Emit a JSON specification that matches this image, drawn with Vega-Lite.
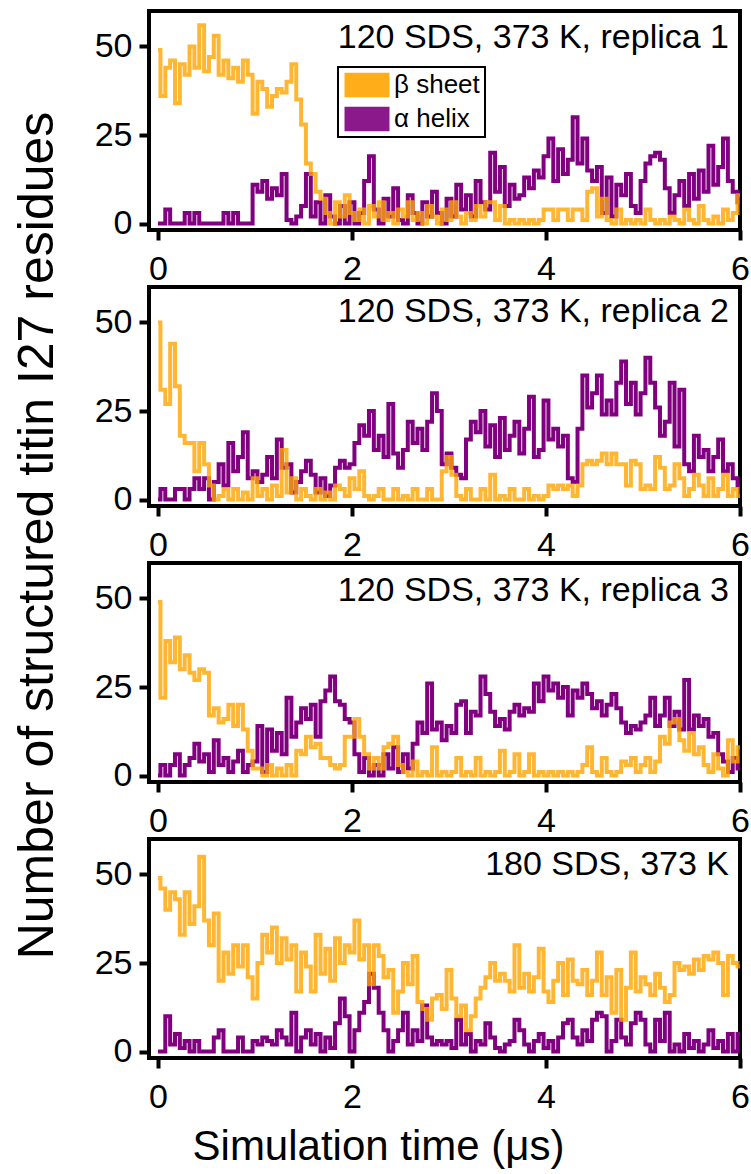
{
  "$schema": "https://vega.github.io/schema/vega-lite/v6.json",
  "padding": {"top": 9, "left": 9, "right": 0, "bottom": 0},
  "spacing": 57,
  "bounds": "flush",
  "config": {
    "font": "Liberation Sans",
    "view": {"stroke": "black", "strokeWidth": 4},
    "axis": {"domain": false, "grid": false, "tickColor": "black", "tickWidth": 4, "tickSize": 10, "labelFontSize": 34, "labelColor": "black", "labelFont": "Liberation Sans", "labelFlush": false, "titleColor": "black", "titleFontWeight": "normal"},
    "legend": {"strokeWidth": 2},
    "title": {"fontSize": 34, "fontWeight": "normal", "font": "Liberation Sans", "color": "black", "anchor": "end", "frame": "group", "dx": -11}
  },
  "resolve": {"scale": {"color": "independent"}, "legend": {"color": "independent"}},
  "datasets": {
    "r1": [{"t":0,"b":49,"a":0},{"t":0.05,"b":36,"a":0},{"t":0.1,"b":44,"a":4},{"t":0.15,"b":46,"a":0},{"t":0.2,"b":34,"a":0},{"t":0.25,"b":45,"a":0},{"t":0.3,"b":42,"a":3},{"t":0.35,"b":50,"a":0},{"t":0.4,"b":44,"a":3},{"t":0.45,"b":56,"a":0},{"t":0.5,"b":43,"a":0},{"t":0.55,"b":47,"a":0},{"t":0.6,"b":53,"a":0},{"t":0.65,"b":42,"a":0},{"t":0.7,"b":46,"a":3},{"t":0.75,"b":41,"a":0},{"t":0.8,"b":44,"a":3},{"t":0.85,"b":40,"a":0},{"t":0.9,"b":46,"a":0},{"t":0.95,"b":42,"a":0},{"t":1,"b":31,"a":11},{"t":1.05,"b":40,"a":9},{"t":1.1,"b":38,"a":12},{"t":1.15,"b":33,"a":7},{"t":1.2,"b":36,"a":10},{"t":1.25,"b":38,"a":8},{"t":1.3,"b":37,"a":14},{"t":1.35,"b":40,"a":1},{"t":1.4,"b":45,"a":0},{"t":1.45,"b":35,"a":2},{"t":1.5,"b":28,"a":5},{"t":1.55,"b":17,"a":14},{"t":1.6,"b":14,"a":2},{"t":1.65,"b":9,"a":6},{"t":1.7,"b":7,"a":0},{"t":1.75,"b":3,"a":8},{"t":1.8,"b":0,"a":2},{"t":1.85,"b":6,"a":0},{"t":1.9,"b":2,"a":5},{"t":1.95,"b":8,"a":0},{"t":2,"b":3,"a":6},{"t":2.05,"b":1,"a":0},{"t":2.1,"b":4,"a":3},{"t":2.15,"b":0,"a":12},{"t":2.2,"b":5,"a":19},{"t":2.25,"b":2,"a":4},{"t":2.3,"b":6,"a":0},{"t":2.35,"b":1,"a":7},{"t":2.4,"b":3,"a":2},{"t":2.45,"b":0,"a":10},{"t":2.5,"b":4,"a":1},{"t":2.55,"b":2,"a":0},{"t":2.6,"b":6,"a":8},{"t":2.65,"b":1,"a":3},{"t":2.7,"b":3,"a":0},{"t":2.75,"b":0,"a":6},{"t":2.8,"b":5,"a":2},{"t":2.85,"b":2,"a":9},{"t":2.9,"b":0,"a":3},{"t":2.95,"b":4,"a":0},{"t":3,"b":1,"a":7},{"t":3.05,"b":6,"a":2},{"t":3.1,"b":2,"a":11},{"t":3.15,"b":0,"a":4},{"t":3.2,"b":3,"a":8},{"t":3.25,"b":1,"a":2},{"t":3.3,"b":5,"a":12},{"t":3.35,"b":2,"a":6},{"t":3.4,"b":6,"a":4},{"t":3.45,"b":6,"a":20},{"t":3.5,"b":1,"a":9},{"t":3.55,"b":5,"a":16},{"t":3.6,"b":0,"a":5},{"t":3.65,"b":1,"a":11},{"t":3.7,"b":0,"a":7},{"t":3.75,"b":1,"a":8},{"t":3.8,"b":0,"a":13},{"t":3.85,"b":1,"a":10},{"t":3.9,"b":0,"a":15},{"t":3.95,"b":1,"a":13},{"t":4,"b":4,"a":19},{"t":4.05,"b":4,"a":24},{"t":4.1,"b":1,"a":12},{"t":4.15,"b":4,"a":21},{"t":4.2,"b":4,"a":14},{"t":4.25,"b":1,"a":18},{"t":4.3,"b":4,"a":30},{"t":4.35,"b":4,"a":17},{"t":4.4,"b":1,"a":24},{"t":4.45,"b":9,"a":15},{"t":4.5,"b":10,"a":12},{"t":4.55,"b":2,"a":16},{"t":4.6,"b":7,"a":3},{"t":4.65,"b":1,"a":13},{"t":4.7,"b":0,"a":2},{"t":4.75,"b":4,"a":11},{"t":4.8,"b":0,"a":8},{"t":4.85,"b":1,"a":14},{"t":4.9,"b":0,"a":5},{"t":4.95,"b":1,"a":3},{"t":5,"b":0,"a":12},{"t":5.05,"b":4,"a":17},{"t":5.1,"b":1,"a":19},{"t":5.15,"b":0,"a":20},{"t":5.2,"b":1,"a":18},{"t":5.25,"b":0,"a":10},{"t":5.3,"b":2,"a":3},{"t":5.35,"b":1,"a":8},{"t":5.4,"b":0,"a":12},{"t":5.45,"b":4,"a":5},{"t":5.5,"b":1,"a":14},{"t":5.55,"b":0,"a":7},{"t":5.6,"b":5,"a":15},{"t":5.65,"b":1,"a":9},{"t":5.7,"b":0,"a":22},{"t":5.75,"b":2,"a":11},{"t":5.8,"b":0,"a":16},{"t":5.85,"b":4,"a":24},{"t":5.9,"b":1,"a":12},{"t":5.95,"b":3,"a":9},{"t":6,"b":8,"a":6}],
    "r2": [{"t":0,"b":50,"a":0},{"t":0.05,"b":31,"a":3},{"t":0.1,"b":27,"a":0},{"t":0.15,"b":44,"a":0},{"t":0.2,"b":32,"a":3},{"t":0.25,"b":18,"a":3},{"t":0.3,"b":16,"a":0},{"t":0.35,"b":16,"a":3},{"t":0.4,"b":8,"a":6},{"t":0.45,"b":16,"a":3},{"t":0.5,"b":10,"a":6},{"t":0.55,"b":4,"a":0},{"t":0.6,"b":0,"a":5},{"t":0.65,"b":1,"a":10},{"t":0.7,"b":3,"a":4},{"t":0.75,"b":0,"a":16},{"t":0.8,"b":3,"a":8},{"t":0.85,"b":0,"a":12},{"t":0.9,"b":2,"a":19},{"t":0.95,"b":0,"a":6},{"t":1,"b":6,"a":8},{"t":1.05,"b":1,"a":5},{"t":1.1,"b":3,"a":7},{"t":1.15,"b":0,"a":12},{"t":1.2,"b":4,"a":6},{"t":1.25,"b":1,"a":17},{"t":1.3,"b":14,"a":9},{"t":1.35,"b":2,"a":10},{"t":1.4,"b":6,"a":2},{"t":1.45,"b":0,"a":5},{"t":1.5,"b":3,"a":8},{"t":1.55,"b":1,"a":11},{"t":1.6,"b":0,"a":7},{"t":1.65,"b":3,"a":2},{"t":1.7,"b":0,"a":6},{"t":1.75,"b":2,"a":1},{"t":1.8,"b":0,"a":4},{"t":1.85,"b":4,"a":9},{"t":1.9,"b":3,"a":11},{"t":1.95,"b":1,"a":9},{"t":2,"b":6,"a":10},{"t":2.05,"b":3,"a":16},{"t":2.1,"b":8,"a":21},{"t":2.15,"b":1,"a":18},{"t":2.2,"b":0,"a":25},{"t":2.25,"b":1,"a":14},{"t":2.3,"b":3,"a":18},{"t":2.35,"b":0,"a":12},{"t":2.4,"b":0,"a":27},{"t":2.45,"b":3,"a":13},{"t":2.5,"b":0,"a":9},{"t":2.55,"b":1,"a":14},{"t":2.6,"b":0,"a":22},{"t":2.65,"b":3,"a":16},{"t":2.7,"b":0,"a":20},{"t":2.75,"b":0,"a":14},{"t":2.8,"b":3,"a":22},{"t":2.85,"b":0,"a":30},{"t":2.9,"b":0,"a":25},{"t":2.95,"b":8,"a":10},{"t":3,"b":12,"a":13},{"t":3.05,"b":7,"a":9},{"t":3.1,"b":1,"a":7},{"t":3.15,"b":0,"a":6},{"t":3.2,"b":3,"a":17},{"t":3.25,"b":0,"a":22},{"t":3.3,"b":0,"a":19},{"t":3.35,"b":3,"a":25},{"t":3.4,"b":0,"a":15},{"t":3.45,"b":7,"a":21},{"t":3.5,"b":0,"a":12},{"t":3.55,"b":1,"a":23},{"t":3.6,"b":0,"a":14},{"t":3.65,"b":3,"a":18},{"t":3.7,"b":0,"a":22},{"t":3.75,"b":0,"a":13},{"t":3.8,"b":3,"a":20},{"t":3.85,"b":0,"a":29},{"t":3.9,"b":1,"a":12},{"t":3.95,"b":0,"a":14},{"t":4,"b":1,"a":28},{"t":4.05,"b":4,"a":17},{"t":4.1,"b":3,"a":20},{"t":4.15,"b":4,"a":15},{"t":4.2,"b":3,"a":18},{"t":4.25,"b":4,"a":6},{"t":4.3,"b":1,"a":5},{"t":4.35,"b":4,"a":20},{"t":4.4,"b":10,"a":35},{"t":4.45,"b":11,"a":26},{"t":4.5,"b":10,"a":30},{"t":4.55,"b":11,"a":35},{"t":4.6,"b":13,"a":24},{"t":4.65,"b":10,"a":28},{"t":4.7,"b":13,"a":24},{"t":4.75,"b":10,"a":33},{"t":4.8,"b":10,"a":39},{"t":4.85,"b":4,"a":27},{"t":4.9,"b":11,"a":33},{"t":4.95,"b":10,"a":24},{"t":5,"b":3,"a":30},{"t":5.05,"b":4,"a":40},{"t":5.1,"b":3,"a":33},{"t":5.15,"b":12,"a":26},{"t":5.2,"b":9,"a":18},{"t":5.25,"b":3,"a":22},{"t":5.3,"b":4,"a":33},{"t":5.35,"b":10,"a":15},{"t":5.4,"b":6,"a":31},{"t":5.45,"b":1,"a":10},{"t":5.5,"b":3,"a":8},{"t":5.55,"b":7,"a":18},{"t":5.6,"b":4,"a":12},{"t":5.65,"b":1,"a":14},{"t":5.7,"b":6,"a":8},{"t":5.75,"b":1,"a":12},{"t":5.8,"b":3,"a":17},{"t":5.85,"b":7,"a":8},{"t":5.9,"b":1,"a":10},{"t":5.95,"b":3,"a":6},{"t":6,"b":1,"a":4}],
    "r3": [{"t":0,"b":49,"a":0},{"t":0.05,"b":22,"a":3},{"t":0.1,"b":38,"a":0},{"t":0.15,"b":32,"a":3},{"t":0.2,"b":39,"a":6},{"t":0.25,"b":30,"a":0},{"t":0.3,"b":34,"a":3},{"t":0.35,"b":29,"a":5},{"t":0.4,"b":27,"a":9},{"t":0.45,"b":30,"a":4},{"t":0.5,"b":29,"a":6},{"t":0.55,"b":17,"a":1},{"t":0.6,"b":19,"a":10},{"t":0.65,"b":15,"a":3},{"t":0.7,"b":16,"a":5},{"t":0.75,"b":20,"a":1},{"t":0.8,"b":14,"a":4},{"t":0.85,"b":20,"a":7},{"t":0.9,"b":13,"a":1},{"t":0.95,"b":7,"a":3},{"t":1,"b":2,"a":4},{"t":1.05,"b":2,"a":14},{"t":1.1,"b":0,"a":1},{"t":1.15,"b":3,"a":13},{"t":1.2,"b":0,"a":7},{"t":1.25,"b":2,"a":12},{"t":1.3,"b":0,"a":6},{"t":1.35,"b":3,"a":22},{"t":1.4,"b":0,"a":11},{"t":1.45,"b":7,"a":15},{"t":1.5,"b":6,"a":19},{"t":1.55,"b":11,"a":16},{"t":1.6,"b":8,"a":20},{"t":1.65,"b":9,"a":11},{"t":1.7,"b":5,"a":21},{"t":1.75,"b":5,"a":24},{"t":1.8,"b":3,"a":28},{"t":1.85,"b":2,"a":21},{"t":1.9,"b":3,"a":20},{"t":1.95,"b":11,"a":16},{"t":2,"b":11,"a":15},{"t":2.05,"b":16,"a":6},{"t":2.1,"b":11,"a":1},{"t":2.15,"b":6,"a":5},{"t":2.2,"b":2,"a":0},{"t":2.25,"b":5,"a":3},{"t":2.3,"b":2,"a":0},{"t":2.35,"b":8,"a":6},{"t":2.4,"b":9,"a":2},{"t":2.45,"b":11,"a":8},{"t":2.5,"b":3,"a":1},{"t":2.55,"b":1,"a":6},{"t":2.6,"b":0,"a":2},{"t":2.65,"b":4,"a":9},{"t":2.7,"b":0,"a":15},{"t":2.75,"b":1,"a":12},{"t":2.8,"b":0,"a":26},{"t":2.85,"b":8,"a":13},{"t":2.9,"b":0,"a":15},{"t":2.95,"b":1,"a":10},{"t":3,"b":0,"a":14},{"t":3.05,"b":1,"a":12},{"t":3.1,"b":5,"a":20},{"t":3.15,"b":0,"a":21},{"t":3.2,"b":1,"a":12},{"t":3.25,"b":0,"a":18},{"t":3.3,"b":5,"a":17},{"t":3.35,"b":0,"a":28},{"t":3.4,"b":1,"a":23},{"t":3.45,"b":0,"a":18},{"t":3.5,"b":1,"a":14},{"t":3.55,"b":7,"a":16},{"t":3.6,"b":0,"a":13},{"t":3.65,"b":1,"a":18},{"t":3.7,"b":6,"a":20},{"t":3.75,"b":0,"a":17},{"t":3.8,"b":1,"a":19},{"t":3.85,"b":6,"a":18},{"t":3.9,"b":0,"a":26},{"t":3.95,"b":1,"a":21},{"t":4,"b":0,"a":28},{"t":4.05,"b":1,"a":24},{"t":4.1,"b":0,"a":26},{"t":4.15,"b":1,"a":22},{"t":4.2,"b":0,"a":25},{"t":4.25,"b":1,"a":17},{"t":4.3,"b":0,"a":24},{"t":4.35,"b":1,"a":22},{"t":4.4,"b":3,"a":26},{"t":4.45,"b":8,"a":23},{"t":4.5,"b":1,"a":19},{"t":4.55,"b":0,"a":21},{"t":4.6,"b":5,"a":17},{"t":4.65,"b":1,"a":20},{"t":4.7,"b":0,"a":23},{"t":4.75,"b":1,"a":19},{"t":4.8,"b":4,"a":15},{"t":4.85,"b":3,"a":12},{"t":4.9,"b":5,"a":14},{"t":4.95,"b":1,"a":13},{"t":5,"b":3,"a":15},{"t":5.05,"b":5,"a":17},{"t":5.1,"b":1,"a":22},{"t":5.15,"b":4,"a":14},{"t":5.2,"b":11,"a":17},{"t":5.25,"b":9,"a":22},{"t":5.3,"b":15,"a":14},{"t":5.35,"b":16,"a":18},{"t":5.4,"b":10,"a":13},{"t":5.45,"b":7,"a":27},{"t":5.5,"b":12,"a":13},{"t":5.55,"b":6,"a":17},{"t":5.6,"b":8,"a":14},{"t":5.65,"b":3,"a":16},{"t":5.7,"b":1,"a":11},{"t":5.75,"b":6,"a":12},{"t":5.8,"b":2,"a":6},{"t":5.85,"b":0,"a":4},{"t":5.9,"b":10,"a":1},{"t":5.95,"b":4,"a":5},{"t":6,"b":8,"a":2}],
    "r4": [{"t":0,"b":49,"a":0},{"t":0.05,"b":46,"a":0},{"t":0.1,"b":40,"a":10},{"t":0.15,"b":45,"a":2},{"t":0.2,"b":43,"a":5},{"t":0.25,"b":33,"a":1},{"t":0.3,"b":45,"a":3},{"t":0.35,"b":36,"a":0},{"t":0.4,"b":41,"a":3},{"t":0.45,"b":55,"a":0},{"t":0.5,"b":37,"a":0},{"t":0.55,"b":30,"a":0},{"t":0.6,"b":39,"a":4},{"t":0.65,"b":20,"a":6},{"t":0.7,"b":28,"a":0},{"t":0.75,"b":22,"a":0},{"t":0.8,"b":30,"a":0},{"t":0.85,"b":24,"a":4},{"t":0.9,"b":30,"a":0},{"t":0.95,"b":21,"a":0},{"t":1,"b":15,"a":3},{"t":1.05,"b":25,"a":2},{"t":1.1,"b":33,"a":4},{"t":1.15,"b":28,"a":3},{"t":1.2,"b":35,"a":2},{"t":1.25,"b":25,"a":6},{"t":1.3,"b":32,"a":4},{"t":1.35,"b":26,"a":2},{"t":1.4,"b":30,"a":11},{"t":1.45,"b":17,"a":0},{"t":1.5,"b":28,"a":4},{"t":1.55,"b":24,"a":6},{"t":1.6,"b":17,"a":2},{"t":1.65,"b":33,"a":5},{"t":1.7,"b":22,"a":0},{"t":1.75,"b":29,"a":4},{"t":1.8,"b":20,"a":1},{"t":1.85,"b":32,"a":8},{"t":1.9,"b":25,"a":15},{"t":1.95,"b":30,"a":10},{"t":2,"b":28,"a":0},{"t":2.05,"b":37,"a":6},{"t":2.1,"b":26,"a":11},{"t":2.15,"b":30,"a":14},{"t":2.2,"b":19,"a":22},{"t":2.25,"b":30,"a":18},{"t":2.3,"b":27,"a":11},{"t":2.35,"b":21,"a":6},{"t":2.4,"b":23,"a":0},{"t":2.45,"b":11,"a":3},{"t":2.5,"b":17,"a":6},{"t":2.55,"b":25,"a":11},{"t":2.6,"b":19,"a":2},{"t":2.65,"b":27,"a":6},{"t":2.7,"b":14,"a":3},{"t":2.75,"b":12,"a":13},{"t":2.8,"b":9,"a":4},{"t":2.85,"b":15,"a":2},{"t":2.9,"b":16,"a":3},{"t":2.95,"b":12,"a":2},{"t":3,"b":23,"a":3},{"t":3.05,"b":15,"a":1},{"t":3.1,"b":10,"a":9},{"t":3.15,"b":13,"a":2},{"t":3.2,"b":6,"a":5},{"t":3.25,"b":10,"a":0},{"t":3.3,"b":15,"a":3},{"t":3.35,"b":18,"a":2},{"t":3.4,"b":21,"a":8},{"t":3.45,"b":25,"a":4},{"t":3.5,"b":20,"a":1},{"t":3.55,"b":22,"a":0},{"t":3.6,"b":20,"a":2},{"t":3.65,"b":17,"a":3},{"t":3.7,"b":30,"a":9},{"t":3.75,"b":18,"a":6},{"t":3.8,"b":22,"a":2},{"t":3.85,"b":17,"a":0},{"t":3.9,"b":21,"a":3},{"t":3.95,"b":29,"a":5},{"t":4,"b":17,"a":1},{"t":4.05,"b":14,"a":3},{"t":4.1,"b":20,"a":0},{"t":4.15,"b":25,"a":4},{"t":4.2,"b":16,"a":8},{"t":4.25,"b":26,"a":9},{"t":4.3,"b":20,"a":4},{"t":4.35,"b":19,"a":2},{"t":4.4,"b":23,"a":6},{"t":4.45,"b":16,"a":3},{"t":4.5,"b":20,"a":9},{"t":4.55,"b":28,"a":11},{"t":4.6,"b":16,"a":10},{"t":4.65,"b":21,"a":0},{"t":4.7,"b":11,"a":3},{"t":4.75,"b":23,"a":9},{"t":4.8,"b":9,"a":4},{"t":4.85,"b":18,"a":2},{"t":4.9,"b":28,"a":8},{"t":4.95,"b":17,"a":11},{"t":5,"b":21,"a":9},{"t":5.05,"b":19,"a":2},{"t":5.1,"b":16,"a":0},{"t":5.15,"b":22,"a":9},{"t":5.2,"b":18,"a":3},{"t":5.25,"b":14,"a":11},{"t":5.3,"b":16,"a":0},{"t":5.35,"b":25,"a":2},{"t":5.4,"b":23,"a":0},{"t":5.45,"b":24,"a":5},{"t":5.5,"b":22,"a":1},{"t":5.55,"b":26,"a":3},{"t":5.6,"b":23,"a":0},{"t":5.65,"b":27,"a":2},{"t":5.7,"b":26,"a":6},{"t":5.75,"b":28,"a":1},{"t":5.8,"b":25,"a":3},{"t":5.85,"b":16,"a":0},{"t":5.9,"b":27,"a":5},{"t":5.95,"b":25,"a":0},{"t":6,"b":24,"a":5}]
  },
  "vconcat": [
    {
      "width": 591, "height": 219,
      "title": {"text": "120 SDS, 373 K, replica 1", "offset": -44},
      "encoding": {
        "x": {"field": "t", "type": "quantitative", "scale": {"domain": [-0.093, 6], "nice": false, "zero": false}, "axis": {"values": [0, 2, 4, 6], "labelPadding": 12, "title": null}},
        "y": {"field": "v", "type": "quantitative", "scale": {"domain": [-1.8, 60], "nice": false, "zero": false}, "axis": {"values": [0, 25, 50], "labelPadding": 7, "title": "Number of structured titin I27 residues", "titleFontSize": 50, "titleFont": "Liberation Sans", "titleX": -97, "titleY": 524, "titleBaseline": "alphabetic", "titleAngle": 270}}
      },
      "layer": [
        {"data": {"name": "r1"}, "transform": [{"fold": ["a", "b"], "as": ["s", "v"]}, {"filter": "datum.s === 'a'"}], "mark": {"type": "line", "strokeWidth": 4, "interpolate": "step"},
         "encoding": {"color": {"field": "s", "type": "nominal", "scale": {"domain": ["b", "a"], "range": ["#FFA500", "#800080"]}, "legend": null}}},
        {"data": {"name": "r1"}, "transform": [{"fold": ["a", "b"], "as": ["s", "v"]}, {"filter": "datum.s === 'b'"}], "mark": {"type": "line", "strokeWidth": 4, "interpolate": "step", "opacity": 0.8},
         "encoding": {"color": {"field": "s", "type": "nominal", "scale": {"domain": ["b", "a"], "range": ["#FFA500", "#800080"]}, "legend": null}}},
        {"data": {"values": [{"s": "b"}, {"s": "a"}]}, "mark": {"type": "point", "filled": true, "opacity": 0},
         "encoding": {"x": {"datum": 0}, "y": {"datum": 0},
           "fill": {"field": "s", "type": "nominal", "scale": {"domain": ["b", "a"], "range": ["#FFA500", "#800080"]},
             "legend": {"orient": "none", "legendX": 189, "legendY": 56, "title": null, "symbolType": "M-2,-1.1H2V1.1H-2Z", "symbolSize": 506, "symbolStrokeWidth": 0, "symbolOffset": 11, "symbolOpacity": 0.9, "labelFontSize": 26, "labelFont": "Liberation Sans", "labelColor": "black", "labelOffset": 14, "padding": 5, "strokeColor": "black", "fillColor": "white", "rowPadding": 8, "labelExpr": "datum.value === 'b' ? 'β sheet' : 'α helix'"}}}}
      ]
    },
    {
      "width": 591, "height": 219,
      "title": {"text": "120 SDS, 373 K, replica 2", "offset": -42},
      "encoding": {
        "x": {"field": "t", "type": "quantitative", "scale": {"domain": [-0.093, 6], "nice": false, "zero": false}, "axis": {"values": [0, 2, 4, 6], "labelPadding": 12, "title": null}},
        "y": {"field": "v", "type": "quantitative", "scale": {"domain": [-1.8, 60], "nice": false, "zero": false}, "axis": {"values": [0, 25, 50], "labelPadding": 7, "title": null}}
      },
      "layer": [
        {"data": {"name": "r2"}, "transform": [{"fold": ["a", "b"], "as": ["s", "v"]}, {"filter": "datum.s === 'a'"}], "mark": {"type": "line", "strokeWidth": 4, "interpolate": "step"},
         "encoding": {"color": {"field": "s", "type": "nominal", "scale": {"domain": ["b", "a"], "range": ["#FFA500", "#800080"]}, "legend": null}}},
        {"data": {"name": "r2"}, "transform": [{"fold": ["a", "b"], "as": ["s", "v"]}, {"filter": "datum.s === 'b'"}], "mark": {"type": "line", "strokeWidth": 4, "interpolate": "step", "opacity": 0.8},
         "encoding": {"color": {"field": "s", "type": "nominal", "scale": {"domain": ["b", "a"], "range": ["#FFA500", "#800080"]}, "legend": null}}}
      ]
    },
    {
      "width": 591, "height": 219,
      "title": {"text": "120 SDS, 373 K, replica 3", "offset": -45},
      "encoding": {
        "x": {"field": "t", "type": "quantitative", "scale": {"domain": [-0.093, 6], "nice": false, "zero": false}, "axis": {"values": [0, 2, 4, 6], "labelPadding": 12, "title": null}},
        "y": {"field": "v", "type": "quantitative", "scale": {"domain": [-1.8, 60], "nice": false, "zero": false}, "axis": {"values": [0, 25, 50], "labelPadding": 7, "title": null}}
      },
      "layer": [
        {"data": {"name": "r3"}, "transform": [{"fold": ["a", "b"], "as": ["s", "v"]}, {"filter": "datum.s === 'a'"}], "mark": {"type": "line", "strokeWidth": 4, "interpolate": "step"},
         "encoding": {"color": {"field": "s", "type": "nominal", "scale": {"domain": ["b", "a"], "range": ["#FFA500", "#800080"]}, "legend": null}}},
        {"data": {"name": "r3"}, "transform": [{"fold": ["a", "b"], "as": ["s", "v"]}, {"filter": "datum.s === 'b'"}], "mark": {"type": "line", "strokeWidth": 4, "interpolate": "step", "opacity": 0.8},
         "encoding": {"color": {"field": "s", "type": "nominal", "scale": {"domain": ["b", "a"], "range": ["#FFA500", "#800080"]}, "legend": null}}}
      ]
    },
    {
      "width": 591, "height": 219,
      "title": {"text": "180 SDS, 373 K", "offset": -43},
      "encoding": {
        "x": {"field": "t", "type": "quantitative", "scale": {"domain": [-0.093, 6], "nice": false, "zero": false}, "axis": {"values": [0, 2, 4, 6], "labelPadding": 12, "title": "Simulation time (μs)", "titleFontSize": 42, "titleFont": "Liberation Sans", "titleX": 229, "titleY": 101, "titleBaseline": "alphabetic"}},
        "y": {"field": "v", "type": "quantitative", "scale": {"domain": [-1.8, 60], "nice": false, "zero": false}, "axis": {"values": [0, 25, 50], "labelPadding": 7, "title": null}}
      },
      "layer": [
        {"data": {"name": "r4"}, "transform": [{"fold": ["a", "b"], "as": ["s", "v"]}, {"filter": "datum.s === 'a'"}], "mark": {"type": "line", "strokeWidth": 4, "interpolate": "step"},
         "encoding": {"color": {"field": "s", "type": "nominal", "scale": {"domain": ["b", "a"], "range": ["#FFA500", "#800080"]}, "legend": null}}},
        {"data": {"name": "r4"}, "transform": [{"fold": ["a", "b"], "as": ["s", "v"]}, {"filter": "datum.s === 'b'"}], "mark": {"type": "line", "strokeWidth": 4, "interpolate": "step", "opacity": 0.8},
         "encoding": {"color": {"field": "s", "type": "nominal", "scale": {"domain": ["b", "a"], "range": ["#FFA500", "#800080"]}, "legend": null}}}
      ]
    }
  ]
}
